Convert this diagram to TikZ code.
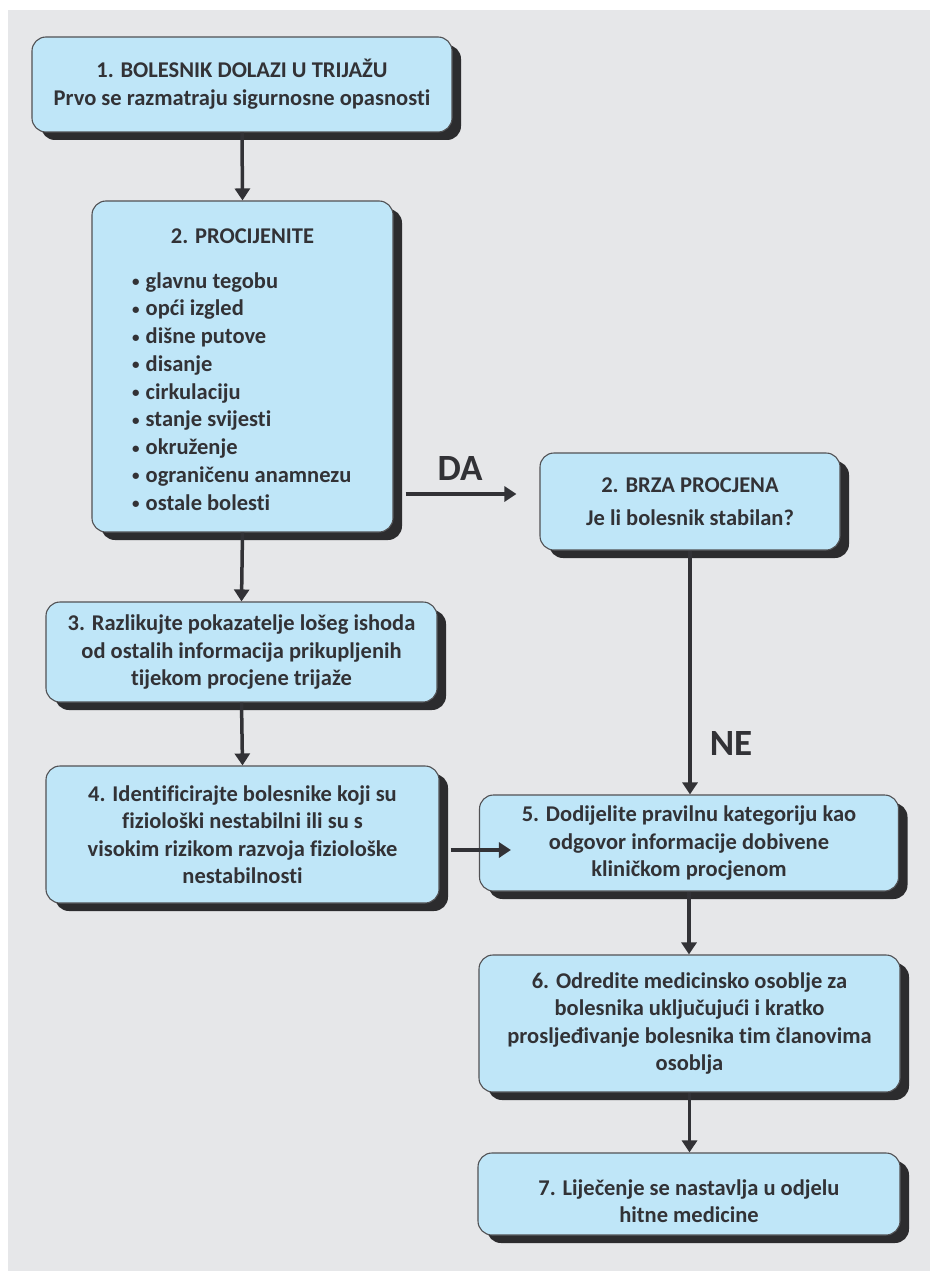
\documentclass[tikz,border=0pt]{standalone}
\usepackage{fontspec}
\setmainfont{Carlito}[RawFeature={-liga;-dlig}]
\usetikzlibrary{shadows,arrows.meta,calc}
\definecolor{bg}{RGB}{230,231,233}
\definecolor{boxfill}{RGB}{191,230,248}
\definecolor{ink}{RGB}{50,50,54}
\definecolor{shade}{RGB}{44,44,46}
\newcommand{\mybul}{{\fontsize{15}{15}\selectfont\raisebox{1.5pt}{\textbullet}}}
\begin{document}
\begin{tikzpicture}[x=1pt,y=-1pt,
  box/.style={draw=ink!85, line width=1.1pt, fill=boxfill, rounded corners=14pt,
    inner sep=0pt, align=center, text=ink,
    font=\fontsize{22.5}{27.5}\selectfont\bfseries,
    drop shadow={shadow xshift=9pt, shadow yshift=-8pt, fill=shade, opacity=1}},
  txt/.style={inner sep=0pt, text=ink, font=\fontsize{22.5}{27.5}\selectfont\bfseries},
  lbl/.style={inner sep=0pt, text=ink, font=\fontsize{37}{40}\selectfont\bfseries},
  arr/.style={draw=ink, line width=3.5pt, -{Triangle[width=15pt,length=12pt]}}]
\useasboundingbox (0,0) rectangle (930,1271);
\fill[white] (0,0) rectangle (930,1271);
\fill[bg] (8,10) rectangle (930,1271);

\node[box, minimum width=420pt, minimum height=95pt] (b1) at (242,84.5)
  {1. BOLESNIK DOLAZI U TRIJAŽU\rule[-12pt]{0pt}{1pt}\\[-1pt]Prvo se razmatraju sigurnosne opasnosti};
\node[box, minimum width=301pt, minimum height=331pt] (b2) at (242.5,366.5) {};
\node[txt, anchor=base] (b2t) at (242.5,243) {2. PROCIJENITE};
\foreach \t [count=\k] in {glavnu tegobu, opći izgled, dišne putove, disanje, cirkulaciju, stanje svijesti, okruženje, ograničenu anamnezu, ostale bolesti}
  \node[txt, anchor=base west] (i\k) at (132,{288+(\k-1)*27.75}) {\mybul\hspace{6pt}\t};
\node[box, minimum width=300pt, minimum height=97pt] (b2r) at (690,501.5)
  {2. BRZA PROCJENA\\[5pt]Je li bolesnik stabilan?};
\node[box, minimum width=391pt, minimum height=100pt] (b3) at (241.5,652)
  {3. Razlikujte pokazatelje lošeg ishoda\\od ostalih informacija prikupljenih\\tijekom procjene trijaže};
\node[box, minimum width=393pt, minimum height=137pt] (b4) at (242.5,834.5)
  {4. Identificirajte bolesnike koji su\\fiziološki nestabilni ili su s\\visokim rizikom razvoja fiziološke\\nestabilnosti};
\node[box, minimum width=419pt, minimum height=96pt] (b5) at (689,843)
  {5. Dodijelite pravilnu kategoriju kao\\odgovor informacije dobivene\\kliničkom procjenom};
\node[box, minimum width=421pt, minimum height=137pt] (b6) at (689.5,1023.5)
  {6. Odredite medicinsko osoblje za\\bolesnika uključujući i kratko\\prosljeđivanje bolesnika tim članovima\\osoblja};
\node[box, minimum width=422pt, minimum height=82pt] (b7) at (689,1194)
  {\rule{0pt}{30pt}7. Liječenje se nastavlja u odjelu\\hitne medicine};

\node[lbl, anchor=base] (da) at (460,480) {DA};
\node[lbl, anchor=base] (ne) at (731,755) {NE};

\draw[arr] (b1.south) -- (b2.north);
\draw[arr] (b2.south) -- (b3.north);
\draw[arr] (b3.south) -- (b4.north);
\draw[arr] ($(b2.east |- b2r.west)+(12,-7.5)$) -- ($(b2r.west)+(-23,-7.5)$);
\draw[arr] (b2r.south) -- (b2r.south |- b5.north);
\draw[arr] ($(b4.east)+(11,15.5)$) -- ($(b5.west |- b4.east)+(32,15.5)$);
\draw[arr] (b5.south) -- (b5.south |- b6.north);
\draw[arr] (b6.south) -- (b6.south |- b7.north);
\end{tikzpicture}
\end{document}
